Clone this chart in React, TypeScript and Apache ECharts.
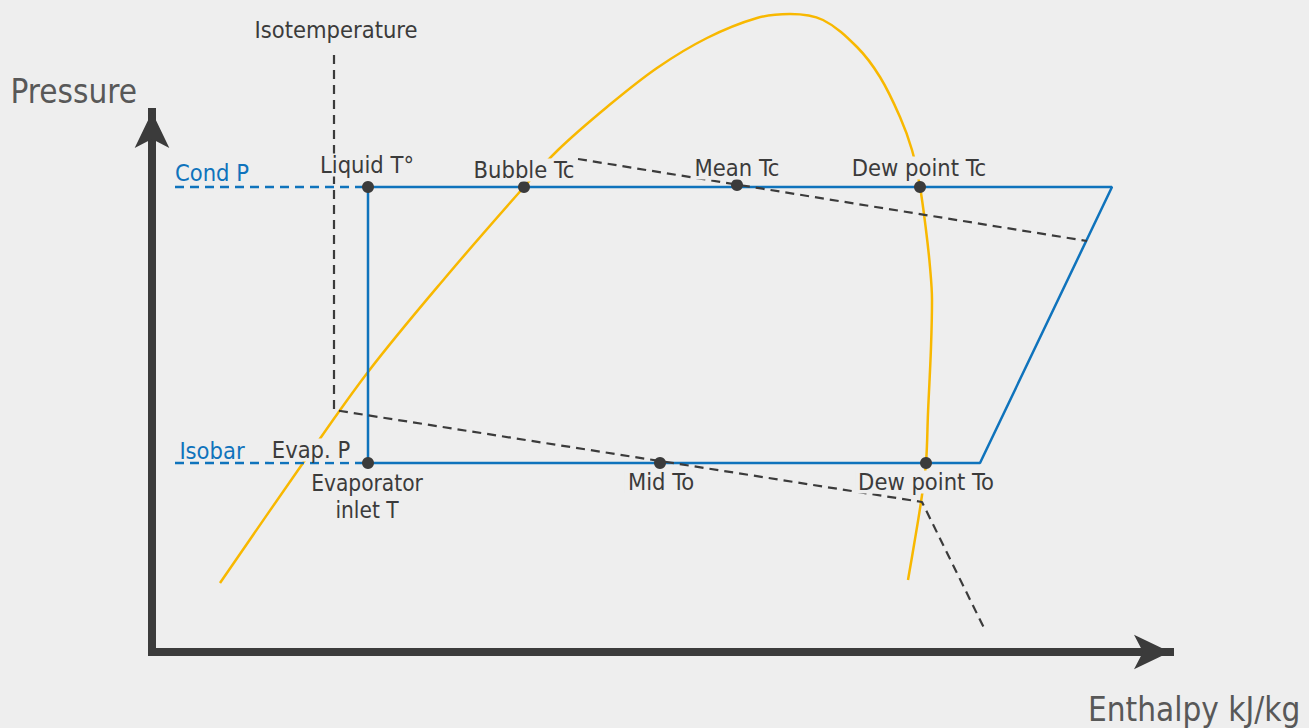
import React, { useEffect, useRef } from "react";
import * as echarts from "echarts";

// Coordinates: h = enthalpy (schematic units), p = pressure (schematic units)
const condP = 541;
const evapP = 265;

// Saturation dome (bubble + dew lines)
const domeH = [220, 303, 368, 445, 524, 558, 607, 657, 707, 757, 790, 823, 857, 880, 900, 912, 920, 926, 930, 932, 931, 928, 926, 921, 914, 908];
const domeP = [145, 265, 356, 450, 541, 578, 621, 660, 690, 710, 714, 708, 681, 651, 611, 578, 541, 498, 461, 428, 381, 315, 265, 226, 183, 148];

// Refrigeration cycle
const cycleH = [368, 1112, 980, 368, 368];
const cycleP = [condP, condP, evapP, evapP, condP];

// Isobar extensions (dashed)
const isobarH = [175, 368, null, 175, 368];
const isobarP = [condP, condP, null, evapP, evapP];

// Isotemperature lines (dashed)
const isoLowH = [334, 334, 922, 985];
const isoLowP = [673, 318, 226, 98];
const isoHighH = [578, 1087];
const isoHighP = [569, 487];

// Points on the cycle
const pointH = [368, 524, 737, 920, 368, 660, 926];
const pointP = [condP, condP, 543, condP, evapP, evapP, evapP];

// Labels
const labelNames = ["Isotemperature", "Liquid T°", "Bubble Tc", "Mean Tc", "Dew point Tc", "Evap. P", "Evaporator", "inlet T", "Mid To", "Dew point To"];
const labelH = [336, 367, 524, 737, 919, 311, 367, 367, 661, 926];
const labelP = [698, 563, 558, 560, 560, 278, 245, 218, 246, 246];
const labelSize = [23.5, 23.5, 23.5, 23.5, 23.5, 23.5, 22.5, 22.5, 23.5, 23.5];

const blueNames = ["Cond P", "Isobar"];
const blueH = [212, 212];
const blueP = [555, 277];

const FONT = "'Liberation Sans Narrow', 'DejaVu Sans Condensed', 'Roboto', sans-serif";
const DARK = "#3b3b3b";
const BLUE = "#0f73bc";
const YELLOW = "#f8b800";
const BG = "#eeeeee";

const zip = (a: (number | null)[], b: (number | null)[]) => a.map((v, i) => (v === null ? [null, null] : [v, b[i]]));

export default function App() {
  const ref = useRef<HTMLDivElement>(null);
  useEffect(() => {
    const chart = echarts.init(ref.current!, undefined, { renderer: "svg" });
    const labelBase = {
      show: true,
      position: "inside",
      formatter: (p: any) => p.name,
      fontFamily: FONT,
      fontSize: 23.5,
      lineHeight: 22,
      align: "center",
    };
    chart.setOption({
      animation: false,
      backgroundColor: BG,
      grid: { left: 152, right: 1309 - 1170, top: 112, bottom: 76, outerBoundsMode: "none", containLabel: false },
      xAxis: {
        type: "value",
        min: 152,
        max: 1170,
        name: "Enthalpy kJ/kg",
        nameLocation: "end",
        nameGap: -82,
        nameTextStyle: { fontFamily: FONT, fontSize: 33, color: "#585858", align: "left", verticalAlign: "top", padding: [41, 0, 0, 0] },
        axisLine: { show: true, onZero: false, symbol: ["none", "arrow"], symbolSize: [26, 36], lineStyle: { color: DARK, width: 8, cap: "square" } },
        axisTick: { show: false },
        axisLabel: { show: false },
        splitLine: { show: false },
      },
      yAxis: {
        type: "value",
        min: 76,
        max: 616,
        name: "Pressure",
        nameLocation: "end",
        nameGap: 21,
        nameTextStyle: { fontFamily: FONT, fontSize: 33, color: "#585858", align: "right", verticalAlign: "middle", padding: [0, 15, 0, 0] },
        axisLine: { show: true, onZero: false, symbol: ["none", "arrow"], symbolSize: [26, 36], lineStyle: { color: DARK, width: 8, cap: "square" } },
        axisTick: { show: false },
        axisLabel: { show: false },
        splitLine: { show: false },
      },
      series: [
        {
          type: "line",
          data: zip(domeH, domeP),
          smooth: 0.35,
          symbol: "none",
          clip: false,
          z: 2,
          lineStyle: { color: YELLOW, width: 2.5 },
        },
        {
          type: "line",
          data: zip(cycleH, cycleP),
          symbol: "none",
          clip: false,
          z: 3,
          lineStyle: { color: BLUE, width: 2.5 },
        },
        {
          type: "line",
          data: zip(isobarH, isobarP),
          symbol: "none",
          connectNulls: false,
          clip: false,
          z: 3,
          lineStyle: { color: BLUE, width: 2.5, type: [9, 6] },
        },
        {
          type: "line",
          data: zip(isoLowH, isoLowP),
          symbol: "none",
          clip: false,
          z: 3,
          lineStyle: { color: DARK, width: 2.2, type: [9, 6] },
        },
        {
          type: "line",
          data: zip(isoHighH, isoHighP),
          symbol: "none",
          clip: false,
          z: 3,
          lineStyle: { color: DARK, width: 2.2, type: [9, 6] },
        },
        {
          type: "scatter",
          data: zip(pointH, pointP),
          symbolSize: 12,
          clip: false,
          z: 5,
          itemStyle: { color: DARK, opacity: 1 },
        },
        {
          type: "scatter",
          data: labelNames.map((n, i) => ({ name: n, value: [labelH[i], labelP[i]], label: { fontSize: labelSize[i] } })),
          symbolSize: 0,
          clip: false,
          z: 10,
          itemStyle: { opacity: 1 },
          label: { ...labelBase, color: DARK, backgroundColor: BG, padding: [1, 3, 0, 3] },
        },
        {
          type: "scatter",
          data: blueNames.map((n, i) => ({ name: n, value: [blueH[i], blueP[i]] })),
          symbolSize: 0,
          clip: false,
          z: 10,
          itemStyle: { opacity: 1 },
          label: { ...labelBase, color: BLUE },
        },
      ],
    });
    return () => chart.dispose();
  }, []);
  return <div ref={ref} style={{ position: "fixed", left: 0, top: 0, width: 1309, height: 728 }} />;
}
